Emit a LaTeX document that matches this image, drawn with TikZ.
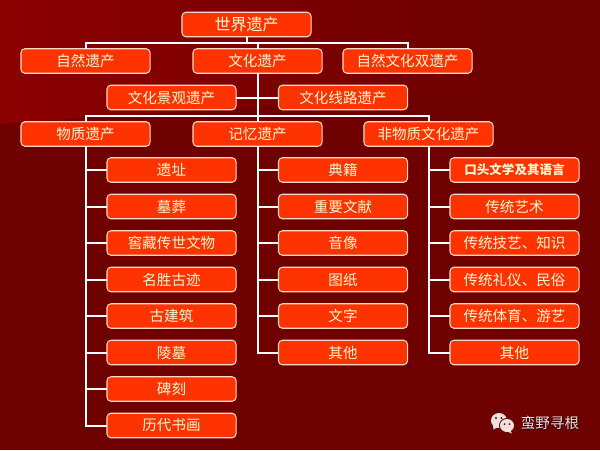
\documentclass[tikz,border=0pt]{standalone}
\usepackage{fontspec}
\setmainfont{Noto Sans CJK SC}
\definecolor{bgdark}{HTML}{6E0000}
\definecolor{bglight}{HTML}{8C0000}
\definecolor{bgmid}{HTML}{8A0000}
\definecolor{boxfill}{HTML}{FF3300}
\definecolor{boxline}{HTML}{FFD8C8}
\definecolor{boxtext}{HTML}{FFF6D0}
\definecolor{logo}{HTML}{EFE0E0}
\tikzset{
  every node/.style={inner sep=0pt,outer sep=0pt},
  box/.style={draw=boxline,line width=0.8pt,fill=boxfill,rounded corners=3pt,
    minimum width=96.8pt,minimum height=18.4pt,text=boxtext,font=\fontsize{10.9pt}{12pt}\selectfont},
  conn/.style={draw=white,line width=1.5pt},
}
\begin{document}
\begin{tikzpicture}[x=0.75pt,y=-0.75pt]
\useasboundingbox (0,0) rectangle (600,450);
\fill[bgdark] (0,0) rectangle (600,450);
\shade[left color=bglight,middle color=bgmid,right color=bgdark]
  (0,0) -- (500,0) -- (500,95) .. controls (400,100) and (200,108) .. (0,124) -- cycle;
% junction coordinates
\coordinate (barA) at (0,43);
\coordinate (barB) at (0,116);
% nodes
\node[box,font=\fontsize{12pt}{14pt}\selectfont] (root) at (246.5,24.5) {世界遗产};
\node[box] (nat) at (85.5,61) {自然遗产};
\node[box] (cul) at (257.5,61) {文化遗产};
\node[box] (mix) at (407.5,61) {自然文化双遗产};
\node[box] (land) at (171.5,97.5) {文化景观遗产};
\node[box] (route) at (343,97.5) {文化线路遗产};
\node[box] (mat) at (85.5,134) {物质遗产};
\node[box] (mem) at (257.5,134) {记忆遗产};
\node[box] (imm) at (428.5,134) {非物质文化遗产};
% column 1
\node[box] (a1) at (171.5,170) {遗址};
\node[box] (a2) at (171.5,206.5) {墓葬};
\node[box] (a3) at (171.5,243) {窖藏传世文物};
\node[box] (a4) at (171.5,279.5) {名胜古迹};
\node[box] (a5) at (171.5,316) {古建筑};
\node[box] (a6) at (171.5,352.5) {陵墓};
\node[box] (a7) at (171.5,389) {碑刻};
\node[box] (a8) at (171.5,425.5) {历代书画};
% column 2
\node[box] (b1) at (343,170) {典籍};
\node[box] (b2) at (343,206.5) {重要文献};
\node[box] (b3) at (343,243) {音像};
\node[box] (b4) at (343,279.5) {图纸};
\node[box] (b5) at (343,316) {文字};
\node[box] (b6) at (343,352.5) {其他};
% column 3
\node[box,font=\fontsize{9.4pt}{11pt}\bfseries\selectfont] (c1) at (514.5,170) {口头文学及其语言};
\node[box] (c2) at (514.5,206.5) {传统艺术};
\node[box] (c3) at (514.5,243) {传统技艺、知识};
\node[box] (c4) at (514.5,279.5) {传统礼仪、民俗};
\node[box] (c5) at (514.5,316) {传统体育、游艺};
\node[box] (c6) at (514.5,352.5) {其他};
% connectors
\draw[conn] (root.south) -- (root.south |- barA);
\draw[conn] (nat.north) -- (nat.north |- barA) -- (mix.north |- barA) -- (mix.north);
\draw[conn] (cul.north) -- (cul.north |- barA);
\draw[conn] (cul.south) -- (cul.south |- barB);
\draw[conn] (land.east) -- (route.west);
\draw[conn] (mat.north) -- (mat.north |- barB) -- (imm.north |- barB) -- (imm.north);
\draw[conn] (mem.north) -- (mem.north |- barB);
\draw[conn] (mat.south) -- (mat.south |- a8.west) -- (a8.west);
\foreach \n in {a1,a2,a3,a4,a5,a6,a7} \draw[conn] (mat.south |- \n.west) -- (\n.west);
\draw[conn] (mem.south) -- (mem.south |- b6.west) -- (b6.west);
\foreach \n in {b1,b2,b3,b4,b5} \draw[conn] (mem.south |- \n.west) -- (\n.west);
\draw[conn] (imm.south) -- (imm.south |- c6.west) -- (c6.west);
\foreach \n in {c1,c2,c3,c4,c5} \draw[conn] (imm.south |- \n.west) -- (\n.west);
% logo
\fill[logo] (499,420.5) ellipse [x radius=8,y radius=7.5];
\fill[logo] (493,425) -- (493.5,429.5) -- (498,427) -- cycle;
\fill[bgdark] (507,425.5) ellipse [x radius=8,y radius=7.5];
\fill[logo] (507,425.5) ellipse [x radius=7,y radius=6.5];
\fill[logo] (510,430) -- (512,433.5) -- (507,431.5) -- cycle;
\fill[bgdark] (496,418) circle (1.1) (501.5,418) circle (1.1) (504.5,424) circle (1) (509.5,424) circle (1);
\node[text=black!70!bgdark,font=\fontsize{10.9pt}{12pt}\selectfont] at (551,423.5) {蛮野寻根};
\node[text=logo,font=\fontsize{10.9pt}{12pt}\selectfont] (mark) at (550,422.5) {蛮野寻根};
\end{tikzpicture}
\end{document}
